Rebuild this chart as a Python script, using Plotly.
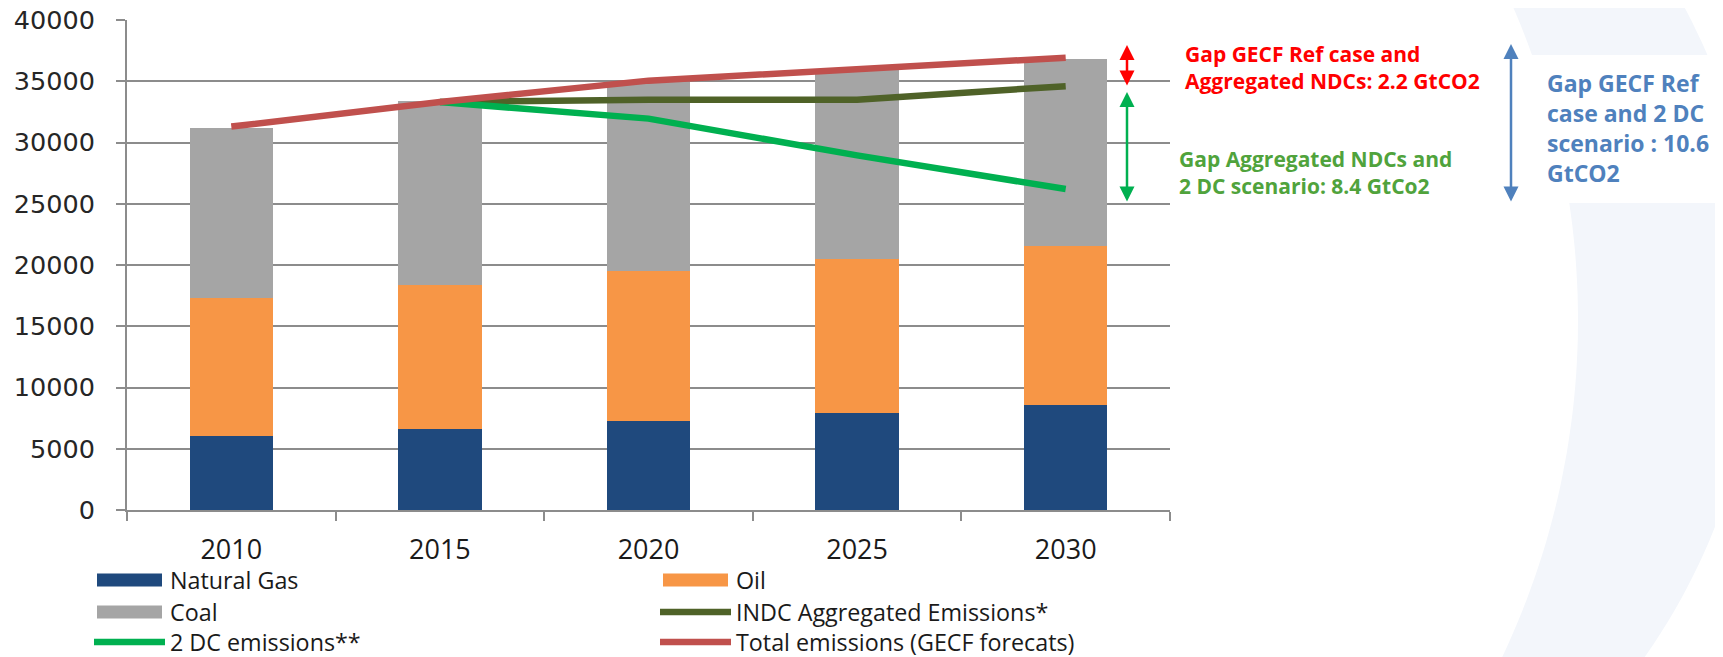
import numpy as np
import plotly.graph_objects as go

# ---------------- data ----------------
years = ["2010", "2015", "2020", "2025", "2030"]
natural_gas = [6050, 6630, 7260, 7890, 8600]
oil = [11250, 11740, 12270, 12620, 12990]
coal = [13890, 15040, 15380, 15400, 15250]
indc_aggregated = [None, 33300, 33500, 33500, 34600]
two_dc = [None, 33300, 31950, 28950, 26200]
total_gecf = [31300, 33300, 35050, 36000, 36920]
y_ticks = [0, 5000, 10000, 15000, 20000, 25000, 30000, 35000, 40000]
y_tick_labels = [str(v) for v in y_ticks]

bar_names = ["Natural Gas", "Oil", "Coal"]
line_names = ["INDC Aggregated Emissions*", "2 DC emissions**", "Total emissions (GECF forecats)"]
bar_colors = ["#1F497D", "#F79646", "#A5A5A5"]
line_colors = ["#4F6228", "#00B050", "#C0504D"]

gap_red = "Gap GECF Ref case and<br>Aggregated NDCs: 2.2 GtCO2"
gap_green = "Gap Aggregated NDCs and<br>2 DC scenario: 8.4 GtCo2"
gap_blue = "Gap GECF Ref<br>case and 2 DC<br>scenario : 10.6<br>GtCO2"

# ---------------- layout geometry (screen pixels; page body has an 8px margin) ----------------
W, H = 1723, 657
OFF = 8
L, R, T, B = 119, 561, 12, 155
PW, PH = W - L - R, H - T - B


def px(sx):
    return (sx - OFF - L) / PW


def py(sy):
    return (H - B - (sy - OFF)) / PH


fig = go.Figure()

for vals, name, col in zip([natural_gas, oil, coal], bar_names, bar_colors):
    fig.add_trace(go.Bar(x=years, y=vals, name=name, marker=dict(color=col, line=dict(width=0)),
                         width=0.4, showlegend=False))

for vals, name, col in zip([indc_aggregated, two_dc, total_gecf], line_names, line_colors):
    fig.add_trace(go.Scatter(x=years, y=vals, name=name, mode="lines",
                             line=dict(color=col, width=6.5), showlegend=False))

shapes = []
annotations = []

# faint background crescent (decoration)
ys = np.linspace(0, H + 10, 60)
x_in = 791 + np.sqrt(787 ** 2 - (ys - 320) ** 2)
x_out = 1139 + np.sqrt(619 ** 2 - (ys - 300) ** 2)
pts = [(px(a), py(b)) for a, b in zip(x_in, ys)] + [(px(a), py(b)) for a, b in zip(x_out[::-1], ys[::-1])]
path = "M" + " L".join(f"{a:.4f},{b:.4f}" for a, b in pts) + " Z"
shapes.append(dict(type="path", path=path, xref="paper", yref="paper", layer="below",
                   fillcolor="#F3F6FB", line=dict(width=0)))
shapes.append(dict(type="rect", xref="paper", yref="paper", layer="below",
                   x0=px(1532), x1=px(1740), y0=py(55), y1=py(203),
                   fillcolor="white", line=dict(width=0)))

# manual legend
rows = [580, 612, 642]
cols = [97, 663]
entries = list(zip(bar_names + line_names, bar_colors + line_colors, ["bar"] * 3 + ["line"] * 3))
for i, (name, col, kind) in enumerate(entries):
    cx = cols[i % 2]
    ry = rows[i // 2]
    if kind == "bar":
        shapes.append(dict(type="rect", xref="paper", yref="paper", x0=px(cx), x1=px(cx + 65),
                           y0=py(ry - 6.5), y1=py(ry + 6.5), fillcolor=col, line=dict(width=0)))
    else:
        shapes.append(dict(type="line", xref="paper", yref="paper", x0=px(cx - 3), x1=px(cx + 68),
                           y0=py(ry), y1=py(ry), line=dict(color=col, width=6.5)))
    annotations.append(dict(text=name, x=px(cx + 71), y=py(ry), xref="paper", yref="paper",
                            xanchor="left", yanchor="middle", showarrow=False,
                            font=dict(family="Open Sans", size=23.3, color="#1a1a1a")))


def arrow(x, y1, y2, color):
    return dict(x=px(x), y=py(y1), xref="paper", yref="paper", ax=0, ay=(y2 - y1),
                axref="pixel", ayref="pixel", text="", showarrow=True,
                arrowhead=2, startarrowhead=2, arrowside="end+start",
                arrowsize=1.2, startarrowsize=1.2, arrowwidth=2.5, arrowcolor=color,
                standoff=0, startstandoff=0)


annotations.append(arrow(1127, 45, 87, "#FF0000"))
annotations.append(arrow(1127, 92, 203, "#00B050"))
annotations.append(arrow(1511, 44, 203, "#4F81BD"))

annotations.append(dict(text=gap_red, x=px(1183), y=py(68), xref="paper", yref="paper",
                        xanchor="left", yanchor="middle", align="left", showarrow=False,
                        font=dict(family="Open Sans", size=21, color="#FF0000", weight="bold")))
annotations.append(dict(text=gap_green, x=px(1177), y=py(173), xref="paper", yref="paper",
                        xanchor="left", yanchor="middle", align="left", showarrow=False,
                        font=dict(family="Open Sans", size=21, color="#50A33C", weight="bold")))
annotations.append(dict(text=gap_blue, x=px(1545), y=py(128), xref="paper", yref="paper",
                        xanchor="left", yanchor="middle", align="left", showarrow=False,
                        font=dict(family="Open Sans", size=23, color="#4F81BD", weight="bold")))

fig.update_layout(
    width=W, height=H,
    margin=dict(l=L, r=R, t=T, b=B, autoexpand=False),
    barmode="stack",
    paper_bgcolor="white", plot_bgcolor="white",
    shapes=shapes, annotations=annotations,
    showlegend=False,
)
fig.update_yaxes(range=[0, 40000], tickvals=y_ticks, ticktext=y_tick_labels,
                 showgrid=True, gridcolor="#8C8C8C", gridwidth=2,
                 showline=True, linecolor="#8C8C8C", linewidth=2, zeroline=False,
                 ticks="outside", ticklen=9, tickwidth=2, tickcolor="#8C8C8C", ticklabelstandoff=16,
                 ticklabeloverflow="allow",
                 tickfont=dict(family="DejaVu Sans", size=25.5, color="#262626"))
fig.update_xaxes(type="category", showgrid=False, showline=True, linecolor="#8C8C8C", linewidth=2,
                 ticks="outside", tickson="boundaries", ticklen=9, tickwidth=2, tickcolor="#8C8C8C",
                 ticklabelstandoff=15,
                 tickfont=dict(family="Open Sans", size=27, color="#1a1a1a"))

fig.write_html("out.html")
